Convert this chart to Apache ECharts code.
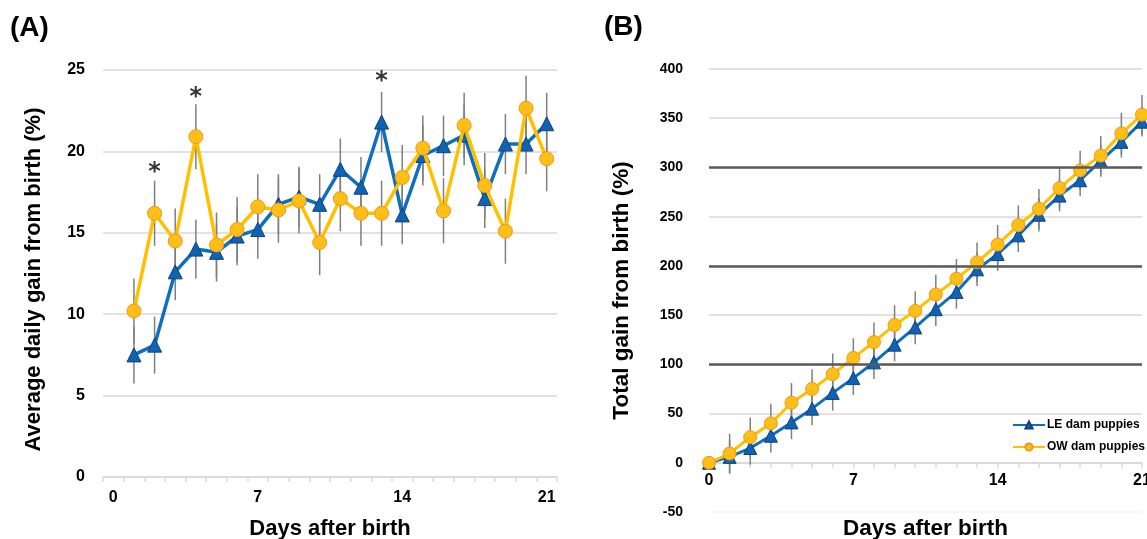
<!DOCTYPE html>
<html>
<head>
<meta charset="utf-8">
<title>Puppy weight gain</title>
<script src="https://cdn.jsdelivr.net/npm/echarts@6/dist/echarts.min.js"></script>
<style>
    html, body { margin: 0; padding: 0; background: #fff; }
    #main { width: 1147px; height: 539px; }
</style>
</head>
<body>
<div id="main"></div>
<script>
// days after birth (category labels)
const days = ['0','1','2','3','4','5','6','7','8','9','10','11','12','13','14','15','16','17','18','19','20','21'];

// (A) average daily gain from birth (%)
const leDaily    = [null, 7.5, 8.1, 12.6, 14.0, 13.8, 14.8, 15.2, 16.75, 17.2, 16.75, 18.9, 17.8, 21.8, 16.1, 19.75, 20.35, 21.0, 17.1, 20.45, 20.45, 21.7];
const leDailyErr = [null, 1.75, 1.75, 1.75, 1.8, 1.8, 1.8, 1.8, 1.85, 1.85, 1.85, 1.9, 1.85, 1.85, 1.8, 1.85, 1.85, 1.85, 1.8, 1.85, 1.85, 1.9];
const owDaily    = [null, 10.2, 16.2, 14.5, 20.9, 14.25, 15.2, 16.6, 16.4, 16.95, 14.4, 17.1, 16.2, 16.2, 18.4, 20.2, 16.35, 21.6, 17.9, 15.1, 22.65, 19.55];
const owDailyErr = [null, 2.0, 2.0, 2.0, 2.0, 2.0, 2.0, 2.0, 2.0, 2.0, 2.0, 2.0, 2.0, 2.0, 2.0, 2.0, 2.0, 2.0, 2.0, 2.0, 2.0, 2.0];

// significance marks (A)
const starDays = ['2', '4', '13'];
const starVals = [19.0, 23.6, 24.6];

// (B) total gain from birth (%)
const leTotal    = [0, 6, 15, 27.5, 41, 55, 71, 86, 102, 120, 137.5, 156, 173.6, 196.5, 212, 231, 252, 271.4, 287, 306.6, 326, 346.5];
const leTotalErr = [0, 17, 17, 17, 17, 17, 18, 17, 17, 17, 17, 17, 17, 17, 17, 17, 17, 16, 16, 16, 16, 15];
const owTotal    = [0, 9.4, 26, 40, 61, 75, 90, 106.5, 122.6, 140, 154.3, 171, 187, 203.7, 221.6, 241.4, 258, 279, 297, 312, 334.6, 353.6];
const owTotalErr = [0, 20, 20, 20, 20, 20, 21, 20, 20, 20, 20, 20, 20, 20, 20, 20, 20, 20, 20, 20, 21, 20];

// heavy reference lines in (B)
const refLines = [100, 200, 300];

const FONT = 'Liberation Sans, Arial, sans-serif';
const BLUE_LINE = '#0e6fbf';
const BLUE_FILL = '#0f63b3';
const BLUE_EDGE = '#123f7c';
const GOLD_LINE = '#ffc000';
const GOLD_FILL = '#ffbf16';
const GOLD_EDGE = '#f0961e';

let chart = echarts.init(document.getElementById('main'));

// build [index, value, err] rows for the error bars
function errRows(vals, errs) {
    let rows = [];
    for (let i = 0; i < vals.length; i++) {
        if (vals[i] === null) continue;
        rows.push([i, vals[i], errs[i]]);
    }
    return rows;
}

function renderErr(params, api) {
    let x = api.value(0);
    let v = api.value(1);
    let e = api.value(2);
    let top = api.coord([x, v + e]);
    let bot = api.coord([x, v - e]);
    return {
        type: 'line',
        shape: { x1: top[0], y1: top[1], x2: bot[0], y2: bot[1] },
        style: { stroke: '#7f7f7f', lineWidth: 1.5 }
    };
}

function labelStyle(size) {
    return { color: '#000', fontFamily: FONT, fontWeight: 'bold', fontSize: size };
}

let option = {
    animation: false,
    backgroundColor: '#fff',
    title: [
        { text: '(A)', left: 5, top: 9, textStyle: { fontFamily: FONT, fontWeight: 'bold', fontSize: 28, color: '#000' } },
        { text: '(B)', left: 599, top: 8, textStyle: { fontFamily: FONT, fontWeight: 'bold', fontSize: 28, color: '#000' } }
    ],
    legend: {
        data: ['LE dam puppies', 'OW dam puppies'],
        orient: 'vertical',
        left: 1007,
        top: 414,
        itemWidth: 32,
        itemHeight: 9,
        itemGap: 10,
        textStyle: { fontFamily: FONT, fontWeight: 'bold', fontSize: 12, color: '#000', padding: [0, 0, 0, -3] }
    },
    grid: [
        { left: 103, top: 70, width: 454, height: 407, outerBoundsMode: 'none' },
        { left: 709, top: 69, width: 433, height: 443, outerBoundsMode: 'none' }
    ],
    xAxis: [
        {
            gridIndex: 0,
            type: 'category',
            data: days,
            boundaryGap: true,
            axisLine: { lineStyle: { color: '#d9d9d9', width: 1.5 } },
            axisTick: { show: true, interval: 0, length: 5, lineStyle: { color: '#d9d9d9', width: 1.5 } },
            axisLabel: Object.assign({ interval: 6, margin: 13 }, labelStyle(16)),
            name: 'Days after birth',
            nameLocation: 'middle',
            nameGap: 41,
            nameTextStyle: labelStyle(22)
        },
        {
            gridIndex: 1,
            type: 'category',
            data: days,
            boundaryGap: false,
            axisLine: { onZero: true, lineStyle: { color: '#d9d9d9', width: 1.5 } },
            axisTick: { show: true, interval: 0, length: 5, lineStyle: { color: '#d9d9d9', width: 1.5 } },
            axisLabel: Object.assign({ interval: 6, margin: -39 }, labelStyle(16)),
            name: 'Days after birth',
            nameLocation: 'middle',
            nameGap: 5,
            nameTextStyle: labelStyle(22.5)
        }
    ],
    yAxis: [
        {
            gridIndex: 0,
            type: 'value',
            min: 0,
            max: 25,
            interval: 5,
            axisLine: { show: false },
            axisTick: { show: false },
            axisLabel: Object.assign({ margin: 18 }, labelStyle(16)),
            splitLine: { lineStyle: { color: '#d9d9d9', width: 1.5 } },
            name: 'Average daily gain from birth (%)',
            nameLocation: 'middle',
            nameGap: 58,
            nameTextStyle: Object.assign({ padding: [0, 12, 0, 0] }, labelStyle(22))
        },
        {
            gridIndex: 1,
            type: 'value',
            min: -50,
            max: 400,
            interval: 50,
            axisLine: { show: false },
            axisTick: { show: false },
            axisLabel: Object.assign({ margin: 26 }, labelStyle(14)),
            splitLine: { lineStyle: { color: ['#f3f3f3', '#d9d9d9', '#d9d9d9', '#d9d9d9', '#d9d9d9', '#d9d9d9', '#d9d9d9', '#d9d9d9', '#d9d9d9', '#d9d9d9'], width: 1.5 } },
            name: 'Total gain from birth (%)',
            nameLocation: 'middle',
            nameGap: 76,
            nameTextStyle: labelStyle(22.5)
        }
    ],
    series: [
        // ---- panel A ----
        {
            type: 'custom',
            xAxisIndex: 0, yAxisIndex: 0,
            renderItem: renderErr,
            data: errRows(owDaily, owDailyErr),
            z: 1, silent: true
        },
        {
            type: 'custom',
            xAxisIndex: 0, yAxisIndex: 0,
            renderItem: renderErr,
            data: errRows(leDaily, leDailyErr),
            z: 1, silent: true
        },
        {
            name: 'LE dam puppies',
            type: 'line',
            xAxisIndex: 0, yAxisIndex: 0,
            data: leDaily,
            symbol: 'triangle',
            symbolSize: 14,
            showAllSymbol: true,
            lineStyle: { color: BLUE_LINE, width: 3.5 },
            itemStyle: { color: BLUE_FILL, borderColor: BLUE_EDGE, borderWidth: 1 },
            z: 3
        },
        {
            name: 'OW dam puppies',
            type: 'line',
            xAxisIndex: 0, yAxisIndex: 0,
            data: owDaily,
            symbol: 'circle',
            symbolSize: 14,
            showAllSymbol: true,
            lineStyle: { color: GOLD_LINE, width: 3.5 },
            itemStyle: { color: GOLD_FILL, borderColor: GOLD_EDGE, borderWidth: 1 },
            z: 4
        },
        {
            type: 'scatter',
            xAxisIndex: 0, yAxisIndex: 0,
            data: starDays.map(function (d, i) { return [d, starVals[i]]; }),
            symbolSize: 1,
            itemStyle: { color: 'rgba(0,0,0,0)' },
            label: {
                show: true,
                position: 'inside',
                formatter: '*',
                offset: [0, 5],
                fontFamily: 'DejaVu Sans, sans-serif',
                fontWeight: 'bold',
                fontSize: 24,
                color: '#000'
            },
            silent: true,
            z: 5
        },

        // ---- panel B ----
        {
            type: 'custom',
            xAxisIndex: 1, yAxisIndex: 1,
            renderItem: renderErr,
            data: errRows(owTotal, owTotalErr),
            z: 1, silent: true,
            markLine: {
                silent: true,
                symbol: 'none',
                label: { show: false },
                lineStyle: { color: '#5a5a5a', width: 2.5, type: 'solid' },
                data: refLines.map(function (v) { return { yAxis: v }; })
            }
        },
        {
            type: 'custom',
            xAxisIndex: 1, yAxisIndex: 1,
            renderItem: renderErr,
            data: errRows(leTotal, leTotalErr),
            z: 1, silent: true
        },
        {
            name: 'LE dam puppies',
            type: 'line',
            xAxisIndex: 1, yAxisIndex: 1,
            data: leTotal,
            symbol: 'triangle',
            symbolSize: 13,
            showAllSymbol: true,
            lineStyle: { color: BLUE_LINE, width: 3 },
            itemStyle: { color: BLUE_FILL, borderColor: BLUE_EDGE, borderWidth: 1 },
            z: 3
        },
        {
            name: 'OW dam puppies',
            type: 'line',
            xAxisIndex: 1, yAxisIndex: 1,
            data: owTotal,
            symbol: 'circle',
            symbolSize: 13,
            showAllSymbol: true,
            lineStyle: { color: GOLD_LINE, width: 3 },
            itemStyle: { color: GOLD_FILL, borderColor: GOLD_EDGE, borderWidth: 1 },
            z: 4
        }
    ]
};

chart.setOption(option);
</script>
</body>
</html>
